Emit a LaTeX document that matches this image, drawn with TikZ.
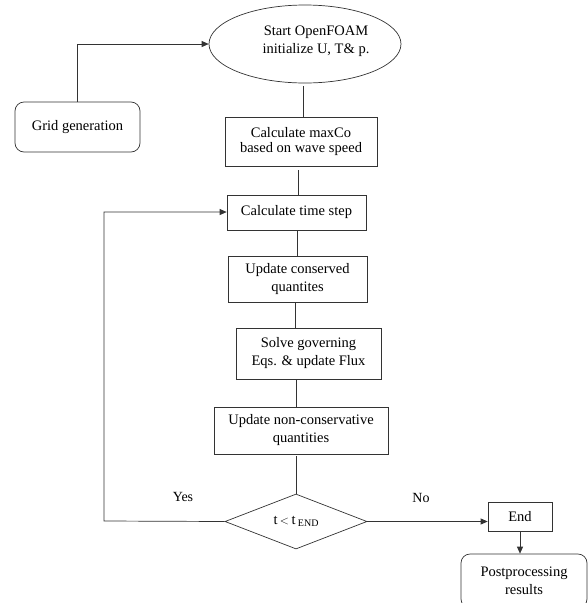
\documentclass[tikz,border=0pt]{standalone}
\usepackage{fontspec}
\setmainfont{Liberation Serif}
\newfontfamily\tnr{Liberation Serif}
\usetikzlibrary{shapes.geometric,arrows.meta}
\tikzset{
  every node/.style={font=\tnr\fontsize{14.5}{18}\selectfont, align=center, inner sep=0pt},
  proc/.style={draw=black!80, line width=0.7pt, rectangle},
  rproc/.style={draw=black!80, line width=0.7pt, rectangle, rounded corners=9pt},
  startnode/.style={draw=black!80, line width=0.7pt, ellipse},
  decide/.style={draw=black!80, line width=0.7pt, diamond},
  conn/.style={draw=black!80, line width=0.7pt},
  arr/.style={conn, -{Triangle[length=7pt,width=6pt]}},
  lbl/.style={font=\tnr\fontsize{14}{16}\selectfont}
}
\begin{document}
\begin{tikzpicture}[x=1pt,y=-1pt]
\useasboundingbox (0,0) rectangle (587,603);
\node[startnode, minimum width=192pt, minimum height=78pt] (start) at (305,44) {};
\node (starttxt) at (316,41) {Start OpenFOAM\\initialize U, T\& p.};
\node[rproc, minimum width=125pt, minimum height=50pt] (grid) at (77.5,127) {\raisebox{3pt}{Grid generation}};
\node[proc, minimum width=152pt, minimum height=49pt] (maxco) at (301,141.5) {\raisebox{2pt}{\shortstack{Calculate maxCo\\[2pt]based on wave speed}}};
\node[proc, minimum width=139pt, minimum height=35pt] (dt) at (296.5,212.5) {\raisebox{3pt}{Calculate time step}};
\node[proc, minimum width=139pt, minimum height=46pt] (cons) at (297.5,279) {Update conserved\\quantites};
\node[proc, minimum width=145pt, minimum height=51pt] (solve) at (308.5,353.5) {Solve governing\\Eqs. \& update Flux};
\node[proc, minimum width=174pt, minimum height=47pt] (ncons) at (301,430.5) {Update non-conservative\\quantities};
\node[decide, minimum width=142pt, minimum height=55pt] (dec) at (296,521.5) {t\,{\fontsize{12}{12}\selectfont$<$}\,t\,\raisebox{-1.5pt}{\fontsize{10}{10}\selectfont END}};
\node[proc, minimum width=64pt, minimum height=29pt] (end) at (520,516.5) {End};
\node[rproc, minimum width=126pt, minimum height=54pt] (post) at (524,581) {Postprocessing\\results};
\node[lbl] (yes) at (183,497) {Yes};
\node[lbl] (no) at (421,498) {No};

\coordinate (g1) at (grid.north |- start.west);
\draw[arr] (grid.north) -- (g1) -- (start.west);
\draw[conn] (303,86) -- (303,117);
\draw[conn] (298,170) -- (298,195);
\draw[conn] (297,230) -- (297,256);
\draw[conn] (295,302) -- (295,328);
\draw[conn] (296,379) -- (296,407);
\draw[conn] (296,456) -- (dec.north);
\coordinate (l1) at (104,521);
\coordinate (l2) at (104,212);
\draw[arr] (dec.west) -- (l1) -- (l2) -- (dt.west |- l2);
\draw[arr] (dec.east) -- (end.west |- dec.east);
\draw[arr] (end.south) -- (post.north -| end.south);
\end{tikzpicture}
\end{document}
